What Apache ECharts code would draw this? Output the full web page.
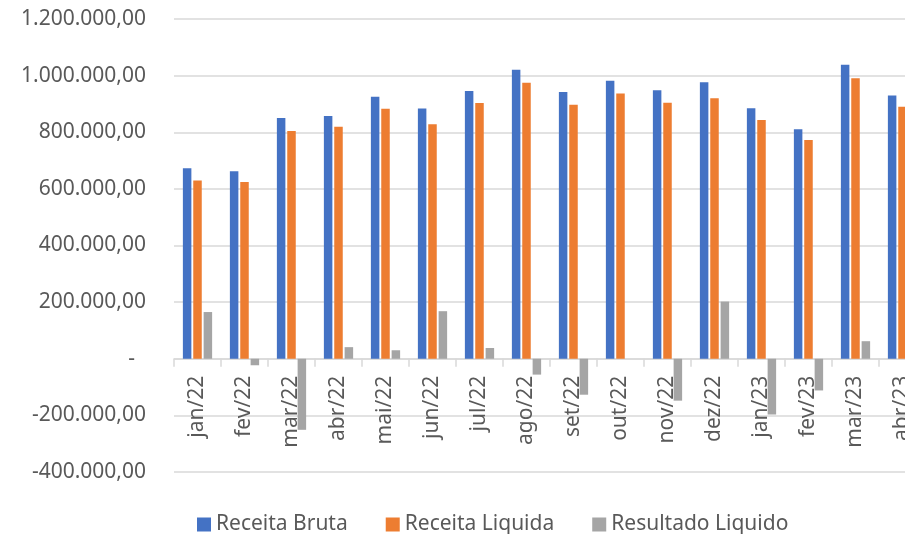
<!DOCTYPE html>
<html>
<head>
    <meta charset="utf-8">
    <script src="https://cdn.jsdelivr.net/npm/echarts@6/dist/echarts.min.js"></script>
    <style type="text/css">
        html, body { margin: 0; padding: 0; background: #fff; }
    </style>
</head>
<body>
    <div id="main" style="width: 905px;height:534px;"></div>
    <script type="text/javascript">
        var categories = ['jan/22', 'fev/22', 'mar/22', 'abr/22', 'mai/22', 'jun/22', 'jul/22', 'ago/22',
            'set/22', 'out/22', 'nov/22', 'dez/22', 'jan/23', 'fev/23', 'mar/23', 'abr/23'];
        var receitaBruta = [673000, 662000, 850000, 857000, 925000, 884000, 946000, 1021000,
            942000, 982000, 948000, 977000, 885000, 811000, 1038000, 930000];
        var receitaLiquida = [630000, 624000, 804000, 819000, 883000, 828000, 903000, 975000,
            897000, 937000, 904000, 920000, 843000, 773000, 991000, 890000];
        var resultadoLiquido = [165000, -23000, -251000, 41000, 30000, 168000, 38000, -56000,
            -127000, 0, -148000, 202000, -197000, -112000, 62000, 40000];

        // formato pt-BR: 1.200.000,00
        function fmt(v) {
            var neg = v < 0;
            var s = Math.abs(Math.round(v)).toString();
            s = s.replace(/\B(?=(\d{3})+(?!\d))/g, '.');
            return (neg ? '-' : '') + s + ',00';
        }

        var font = 'Noto Sans';
        var grey = '#595959';
        var gridTop = 19, gridBottom = 62, chartH = 534;
        var yMin = -400000, yMax = 1200000;
        // eixo x desenhado na linha do zero (v6 não leva os rótulos junto com onZero)
        var plotH = chartH - gridTop - gridBottom;
        var zeroOffset = -plotH * (0 - yMin) / (yMax - yMin);

        var myChart = echarts.init(document.getElementById('main'));
        var option = {
            backgroundColor: '#fff',
            animation: false,
            color: ['#4472C4', '#ED7D31', '#A5A5A5'],
            grid: {
                left: 174,
                top: gridTop,
                width: 752,
                bottom: gridBottom,
                containLabel: false,
                outerBoundsMode: 'none'
            },
            legend: {
                left: 192,
                top: 509,
                itemWidth: 14,
                itemHeight: 14,
                itemGap: 38,
                icon: 'rect',
                textStyle: { fontFamily: font, fontSize: 21, color: grey },
                data: ['Receita Bruta', 'Receita Liquida', 'Resultado Liquido']
            },
            xAxis: {
                type: 'category',
                data: categories,
                offset: zeroOffset,
                z: 1,
                axisLine: { onZero: false, lineStyle: { color: '#d9d9d9', width: 1.5 } },
                axisTick: { show: true, length: 8, lineStyle: { color: '#d9d9d9', width: 1.5 } },
                axisLabel: {
                    rotate: 90,
                    margin: 17,
                    interval: 0,
                    hideOverlap: false,
                    fontFamily: font,
                    fontSize: 21,
                    color: grey
                }
            },
            yAxis: {
                type: 'value',
                min: yMin,
                max: yMax,
                interval: 200000,
                axisLine: { show: false },
                axisTick: { show: false },
                splitLine: { lineStyle: { color: '#d9d9d9', width: 1.5 } },
                axisLabel: {
                    margin: 28,
                    fontFamily: font,
                    fontSize: 21,
                    color: grey,
                    formatter: function (v) {
                        if (v === 0) return '{z|-}';
                        return fmt(v);
                    },
                    rich: {
                        z: { fontFamily: font, fontSize: 21, color: grey, padding: [0, 11, 0, 0] }
                    }
                }
            },
            series: [{
                name: 'Receita Bruta',
                type: 'bar',
                barWidth: 8.5,
                barGap: '22%',
                data: receitaBruta
            }, {
                name: 'Receita Liquida',
                type: 'bar',
                barWidth: 8.5,
                barGap: '22%',
                data: receitaLiquida
            }, {
                name: 'Resultado Liquido',
                type: 'bar',
                barWidth: 8.5,
                barGap: '22%',
                data: resultadoLiquido
            }]
        };
        myChart.setOption(option);
    </script>
</body>
</html>
